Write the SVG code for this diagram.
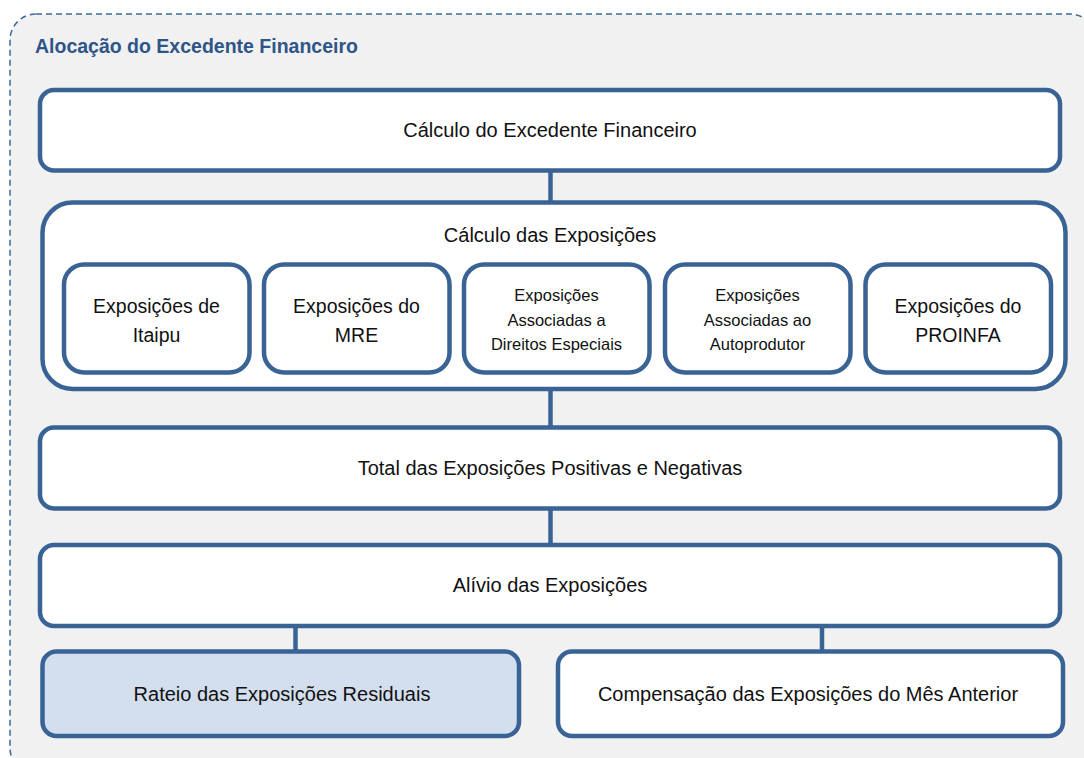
<svg xmlns="http://www.w3.org/2000/svg" width="1084" height="758" viewBox="0 0 1084 758">
<style>
.box{fill:#ffffff;stroke:#3a6395;stroke-width:4.5}
.hl{fill:#d3dfee}
.con{stroke:#3a6395;stroke-width:4.5;fill:none}
.t{font-family:"Liberation Sans",Arial,sans-serif;font-size:20px;fill:#111;text-anchor:middle}
.t2{font-family:"Liberation Sans",Arial,sans-serif;font-size:19.5px;fill:#111;text-anchor:middle}
.t3{font-family:"Liberation Sans",Arial,sans-serif;font-size:16.5px;fill:#111;text-anchor:middle}
.title{font-family:"Liberation Sans",Arial,sans-serif;font-size:19.5px;font-weight:bold;fill:#2f5588}
</style>
<rect width="1084" height="758" fill="#ffffff"/>
<g id="container">
<rect x="10" y="14" width="1086" height="760" rx="26" fill="#f1f1f1" stroke="#3d6899" stroke-width="1.5" stroke-dasharray="6 4"/>
<text class="title" x="35" y="53">Alocação do Excedente Financeiro</text>
</g>
<g id="connectors">
<line class="con" x1="550.5" y1="171" x2="550.5" y2="202"/>
<line class="con" x1="550.5" y1="388" x2="550.5" y2="428"/>
<line class="con" x1="550.5" y1="509" x2="550.5" y2="545"/>
<line class="con" x1="295.5" y1="626" x2="295.5" y2="652"/>
<line class="con" x1="822" y1="626" x2="822" y2="652"/>
</g>
<g id="calc-excedente">
<rect class="box" x="40" y="90" width="1020" height="80.5" rx="14"/>
<text class="t" x="550" y="137">Cálculo do Excedente Financeiro</text>
</g>
<g id="calc-exposicoes">
<rect class="box" x="42.5" y="202.5" width="1023" height="186.5" rx="30"/>
<text class="t" x="550" y="242">Cálculo das Exposições</text>
</g>
<g id="exp-itaipu">
<rect class="box" x="64" y="264.5" width="185.5" height="108" rx="20"/>
<text class="t2" x="156.5" y="313">Exposições de</text>
<text class="t2" x="156.5" y="342">Itaipu</text>
</g>
<g id="exp-mre">
<rect class="box" x="264" y="264.5" width="185.5" height="108" rx="20"/>
<text class="t2" x="356.5" y="313">Exposições do</text>
<text class="t2" x="356.5" y="342">MRE</text>
</g>
<g id="exp-direitos">
<rect class="box" x="464" y="264.5" width="185.5" height="108" rx="20"/>
<text class="t3" x="556.5" y="301">Exposições</text>
<text class="t3" x="556.5" y="326">Associadas a</text>
<text class="t3" x="556.5" y="350">Direitos Especiais</text>
</g>
<g id="exp-autoprodutor">
<rect class="box" x="665" y="264.5" width="185.5" height="108" rx="20"/>
<text class="t3" x="757.5" y="301">Exposições</text>
<text class="t3" x="757.5" y="326">Associadas ao</text>
<text class="t3" x="757.5" y="350">Autoprodutor</text>
</g>
<g id="exp-proinfa">
<rect class="box" x="865.5" y="264.5" width="185.5" height="108" rx="20"/>
<text class="t2" x="958" y="313">Exposições do</text>
<text class="t2" x="958" y="342">PROINFA</text>
</g>
<g id="total">
<rect class="box" x="40" y="427.5" width="1020" height="81" rx="14"/>
<text class="t" x="550" y="475">Total das Exposições Positivas e Negativas</text>
</g>
<g id="alivio">
<rect class="box" x="40" y="545" width="1020" height="81" rx="14"/>
<text class="t" x="550" y="592">Alívio das Exposições</text>
</g>
<g id="rateio">
<rect class="box hl" x="42.5" y="651.5" width="476.5" height="84.5" rx="14"/>
<text class="t" x="282" y="701">Rateio das Exposições Residuais</text>
</g>
<g id="compensacao">
<rect class="box" x="558" y="651.5" width="505" height="84.5" rx="14"/>
<text class="t" x="808" y="701">Compensação das Exposições do Mês Anterior</text>
</g>
</svg>
